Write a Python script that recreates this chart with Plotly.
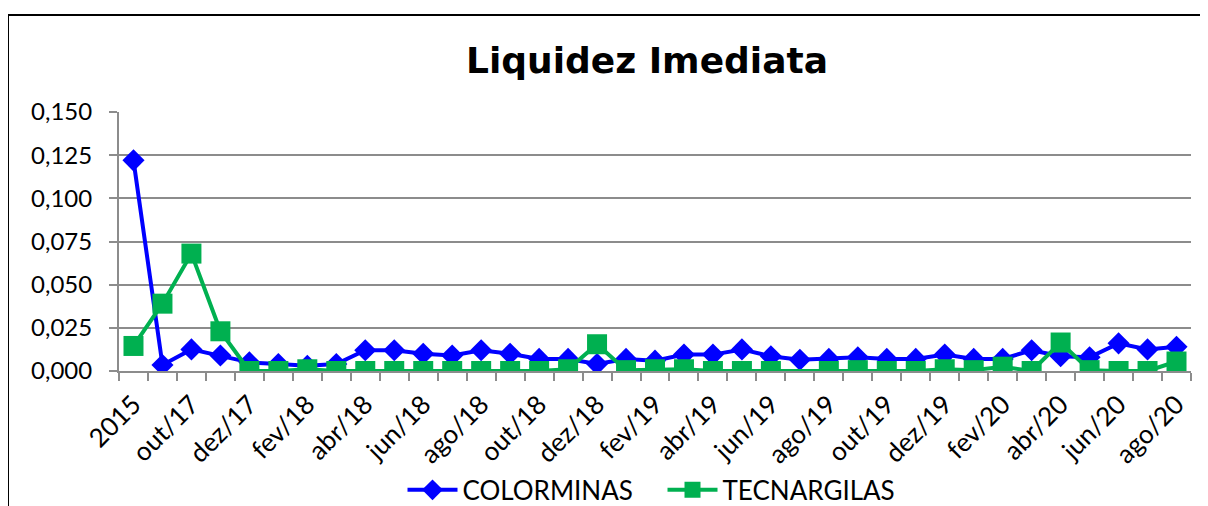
import plotly.graph_objects as go

categories = ["2015", "2016", "out/17", "nov/17", "dez/17", "jan/18", "fev/18", "mar/18",
              "abr/18", "mai/18", "jun/18", "jul/18", "ago/18", "set/18", "out/18", "nov/18",
              "dez/18", "jan/19", "fev/19", "mar/19", "abr/19", "mai/19", "jun/19", "jul/19",
              "ago/19", "set/19", "out/19", "nov/19", "dez/19", "jan/20", "fev/20", "mar/20",
              "abr/20", "mai/20", "jun/20", "jul/20", "ago/20"]

colorminas = [0.122, 0.0035, 0.0125, 0.009, 0.005, 0.004, 0.003, 0.004,
              0.012, 0.012, 0.010, 0.009, 0.012, 0.010, 0.007, 0.007,
              0.004, 0.007, 0.006, 0.0095, 0.0095, 0.0125, 0.0085, 0.0065,
              0.007, 0.008, 0.007, 0.007, 0.0095, 0.007, 0.007, 0.012,
              0.0085, 0.008, 0.016, 0.0125, 0.014]

tecnargilas = [0.0145, 0.039, 0.068, 0.023, 0.0, 0.0, 0.001, 0.0,
               0.0, 0.0, 0.0, 0.0, 0.0, 0.0, 0.0, 0.001,
               0.0155, 0.0005, 0.001, 0.001, 0.0, 0.0, 0.0, 0.0,
               0.0, 0.0005, 0.0, 0.0, 0.001, 0.0005, 0.0025, 0.0,
               0.0165, 0.0005, 0.0, 0.0, 0.0055]

series_names = ["COLORMINAS", "TECNARGILAS"]
y_ticks = [0, 0.025, 0.05, 0.075, 0.1, 0.125, 0.15]

# one point of TECNARGILAS is drawn without a marker in the original
green_sizes = [0 if c == "jul/19" else 20 for c in categories]

tick_text = [c if i % 2 == 0 else "" for i, c in enumerate(categories)]

# the page body adds an 8px margin at the top/left, so shift everything by 8px
W, H = 1200, 498
FONT = "Lato"
fig = go.Figure()
fig.add_trace(go.Scatter(
    x=categories, y=colorminas, name=series_names[0], mode="lines+markers",
    line=dict(color="#0000FF", width=4),
    marker=dict(symbol="diamond", size=17, color="#0000FF", opacity=1,
                line=dict(width=0)),
))
fig.add_trace(go.Scatter(
    x=categories, y=tecnargilas, name=series_names[1], mode="lines+markers",
    line=dict(color="#00B050", width=4),
    marker=dict(symbol="square", size=green_sizes, color="#00B050", opacity=1,
                line=dict(width=0)),
))

fig.update_layout(
    width=W, height=H,
    margin=dict(l=111, r=W - 1183, t=104, b=H - 363, autoexpand=False),
    paper_bgcolor="white", plot_bgcolor="white",
    separators=",.",
    font=dict(family=FONT, size=24, color="black"),
    title=dict(text="<b>Liquidez Imediata</b>", x=639 / W, xref="container",
               y=1 - 52 / H, yref="container", xanchor="center", yanchor="middle",
               font=dict(family="DejaVu Sans", size=36, color="black")),
    legend=dict(orientation="h", x=0.507, xanchor="center", y=-0.459, yanchor="middle",
                font=dict(family=FONT, size=26, color="black"), itemwidth=50,
                entrywidth=195, bgcolor="rgba(0,0,0,0)"),
    showlegend=True,
    xaxis=dict(
        type="category", tickmode="array", tickvals=categories, ticktext=tick_text,
        tickangle=-45, tickson="boundaries", ticks="outside", ticklen=8,
        tickcolor="#8c8c8c", tickwidth=2, showgrid=False,
        showline=True, linecolor="#8c8c8c", linewidth=2,
        ticklabelstandoff=6,
        tickfont=dict(family=FONT, size=26, color="black"),
        range=[-0.5, len(categories) - 0.5],
    ),
    yaxis=dict(
        range=[0, 0.15], tickmode="array", tickvals=y_ticks, tickformat=".3f",
        showgrid=True, gridcolor="#8c8c8c", gridwidth=2,
        showline=True, linecolor="#8c8c8c", linewidth=2,
        ticks="outside", ticklen=8, tickcolor="#8c8c8c", tickwidth=2,
        ticklabelstandoff=12, zeroline=False,
        tickfont=dict(family=FONT, size=24, color="black"),
    ),
)

# outer chart frame: only its top and left edges are visible in the reference
frame_left = (0 - 111) / 1072
frame_top = (363 - 7) / 259
fig.add_shape(type="line", xref="paper", yref="paper",
              x0=frame_left, x1=1.05, y0=frame_top, y1=frame_top,
              line=dict(color="black", width=2), layer="below")
fig.add_shape(type="line", xref="paper", yref="paper",
              x0=frame_left, x1=frame_left, y0=frame_top, y1=-0.6,
              line=dict(color="black", width=2), layer="below")

fig.write_html("out.html")
